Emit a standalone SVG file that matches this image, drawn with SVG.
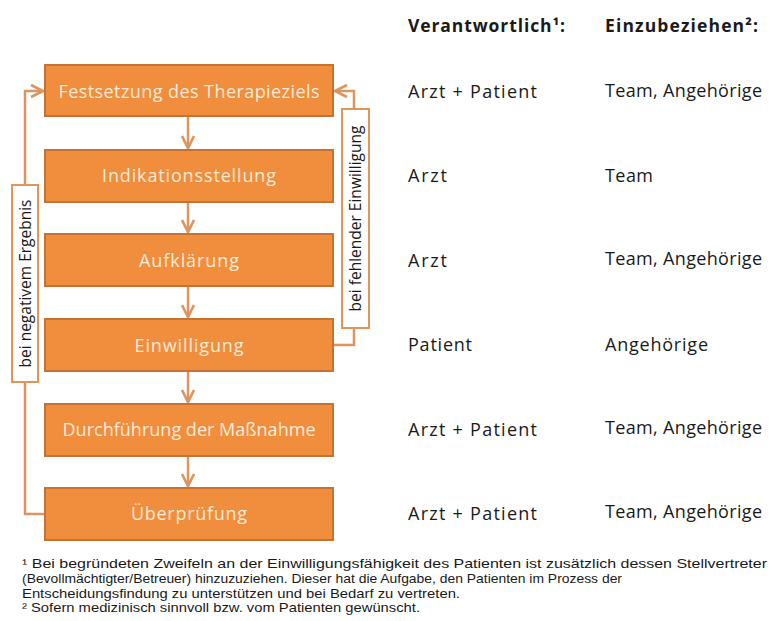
<svg xmlns="http://www.w3.org/2000/svg" width="773" height="621" viewBox="0 0 773 621">
<style>
.box{fill:#f08e3e;stroke:#c47334;stroke-width:2}
.bt{font-family:"Open Sans","DejaVu Sans",sans-serif;font-size:18px;fill:#fdebd8;text-anchor:middle}
.con{fill:none;stroke:#dc9560;stroke-width:2.5}
.lab{fill:#ffffff;stroke:#e0955b;stroke-width:2}
.lt{font-family:"Open Sans","DejaVu Sans",sans-serif;font-size:15.5px;fill:#1a1a1a;text-anchor:middle}
.ct{font-family:"Open Sans","DejaVu Sans",sans-serif;font-size:18px;fill:#1a1a1a}
.hd{font-family:"Open Sans","DejaVu Sans",sans-serif;font-size:17.5px;font-weight:bold;fill:#1a1a1a}
.fn{font-family:"Liberation Sans","Arial",sans-serif;font-size:13px;fill:#1a1a1a}
</style>
<defs>
<marker id="ah" viewBox="0 0 10 10" refX="9" refY="5" markerWidth="6" markerHeight="6" orient="auto" markerUnits="strokeWidth">
<path d="M1,1 L9,5 L1,9" fill="none" stroke="#dc9560" stroke-width="1.8"/>
</marker>
</defs>
<g id="connectors">
<line class="con" x1="188" y1="117" x2="188" y2="148" marker-end="url(#ah)"/>
<line class="con" x1="188" y1="202" x2="188" y2="232" marker-end="url(#ah)"/>
<line class="con" x1="188" y1="286" x2="188" y2="317" marker-end="url(#ah)"/>
<line class="con" x1="188" y1="371" x2="188" y2="402" marker-end="url(#ah)"/>
<line class="con" x1="188" y1="456" x2="188" y2="486" marker-end="url(#ah)"/>
<polyline class="con" points="45,514 25,514 25,91 43,91" marker-end="url(#ah)"/>
<polyline class="con" points="333,345 354,345 354,91 335,91" marker-end="url(#ah)"/>
</g>
<g id="label-negativ">
<rect class="lab" x="12" y="185" width="26" height="197"/>
<text class="lt" transform="translate(30.5,283.5) rotate(-90)">bei negativem Ergebnis</text>
</g>
<g id="label-fehlend">
<rect class="lab" x="342" y="109" width="27" height="219"/>
<text class="lt" transform="translate(361,218.5) rotate(-90)">bei fehlender Einwilligung</text>
</g>
<g id="n1"><rect class="box" x="45" y="65" width="288" height="51"/><text class="bt" x="189" y="98" textLength="261" lengthAdjust="spacing">Festsetzung des Therapieziels</text></g>
<g id="n2"><rect class="box" x="45" y="150" width="288" height="52"/><text class="bt" x="189" y="182" textLength="174" lengthAdjust="spacing">Indikationsstellung</text></g>
<g id="n3"><rect class="box" x="45" y="234" width="288" height="52"/><text class="bt" x="189" y="267" textLength="100" lengthAdjust="spacing">Aufklärung</text></g>
<g id="n4"><rect class="box" x="45" y="319" width="288" height="52"/><text class="bt" x="189" y="352" textLength="109" lengthAdjust="spacing">Einwilligung</text></g>
<g id="n5"><rect class="box" x="45" y="404" width="288" height="52"/><text class="bt" x="189" y="436" textLength="253" lengthAdjust="spacing">Durchführung der Maßnahme</text></g>
<g id="n6"><rect class="box" x="45" y="488" width="288" height="52"/><text class="bt" x="189" y="520" textLength="116" lengthAdjust="spacing">Überprüfung</text></g>
<g id="table">
<text class="hd" x="408" y="32" textLength="157" lengthAdjust="spacing">Verantwortlich¹:</text>
<text class="hd" x="605" y="32" textLength="153" lengthAdjust="spacing">Einzubeziehen²:</text>
<text class="ct" x="408" y="98" textLength="129" lengthAdjust="spacing">Arzt + Patient</text>
<text class="ct" x="605" y="97" textLength="157" lengthAdjust="spacing">Team, Angehörige</text>
<text class="ct" x="408" y="182" textLength="39" lengthAdjust="spacing">Arzt</text>
<text class="ct" x="605" y="182" textLength="48" lengthAdjust="spacing">Team</text>
<text class="ct" x="408" y="267" textLength="39" lengthAdjust="spacing">Arzt</text>
<text class="ct" x="605" y="265" textLength="157" lengthAdjust="spacing">Team, Angehörige</text>
<text class="ct" x="408" y="351" textLength="64" lengthAdjust="spacing">Patient</text>
<text class="ct" x="605" y="351" textLength="103" lengthAdjust="spacing">Angehörige</text>
<text class="ct" x="408" y="436" textLength="129" lengthAdjust="spacing">Arzt + Patient</text>
<text class="ct" x="605" y="434" textLength="157" lengthAdjust="spacing">Team, Angehörige</text>
<text class="ct" x="408" y="520" textLength="129" lengthAdjust="spacing">Arzt + Patient</text>
<text class="ct" x="605" y="518" textLength="157" lengthAdjust="spacing">Team, Angehörige</text>
</g>
<g id="footnotes">
<text class="fn" x="22" y="568" textLength="745" lengthAdjust="spacingAndGlyphs">¹ Bei begründeten Zweifeln an der Einwilligungsfähigkeit des Patienten ist zusätzlich dessen Stellvertreter</text>
<text class="fn" x="22" y="583" textLength="600" lengthAdjust="spacingAndGlyphs">(Bevollmächtigter/Betreuer) hinzuzuziehen. Dieser hat die Aufgabe, den Patienten im Prozess der</text>
<text class="fn" x="22" y="598" textLength="438" lengthAdjust="spacingAndGlyphs">Entscheidungsfindung zu unterstützen und bei Bedarf zu vertreten.</text>
<text class="fn" x="22" y="612" textLength="398" lengthAdjust="spacingAndGlyphs">² Sofern medizinisch sinnvoll bzw. vom Patienten gewünscht.</text>
</g>
</svg>
